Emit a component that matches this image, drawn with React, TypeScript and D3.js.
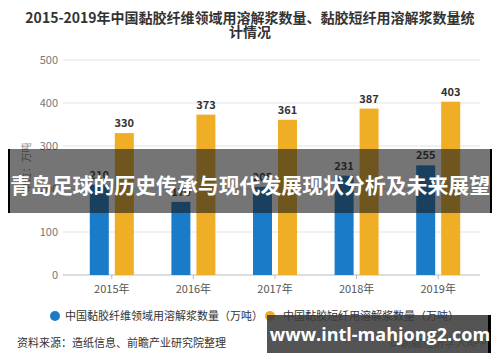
import React from "react";
import * as d3 from "d3";

// chart data
const years = ["2015年", "2016年", "2017年", "2018年", "2019年"];
const seriesNames = [
  "中国黏胶纤维领域用溶解浆数量（万吨）",
  "中国黏胶短纤用溶解浆数量（万吨）",
];
const fiberPulp = [210, 170, 205, 231, 255];
const staplePulp = [330, 373, 361, 387, 403];
const yTicks = [0, 100, 200, 300, 400, 500];
const colors = ["#1a7bc9", "#f0ae26"];

const W = 500;
const H = 362;
const FONT = "'Noto Sans CJK SC', 'Noto Sans', sans-serif";

export default function App() {
  const x0 = d3.scaleBand<string>().domain(years).range([71, 479]);
  const x1 = d3
    .scaleBand<number>()
    .domain([0, 1])
    .range([0, 44])
    .paddingInner(0.24);
  const y = d3.scaleLinear().domain([0, 500]).range([275, 60]);

  const series = [fiberPulp, staplePulp];
  const groupOffset = (x0.bandwidth() - 44) / 2;

  return (
    <svg
      width={W}
      height={H}
      style={{ position: "fixed", left: 0, top: 0, background: "#fff" }}
      fontFamily={FONT}
    >
      <rect width={W} height={H} fill="#fff" />

      {/* title */}
      <text x={250} y={23} textAnchor="middle" fontSize={14} fontWeight="bold" fill="#333">
        2015-2019年中国黏胶纤维领域用溶解浆数量、黏胶短纤用溶解浆数量统
      </text>
      <text x={250} y={37} textAnchor="middle" fontSize={14} fontWeight="bold" fill="#333">
        计情况
      </text>

      {/* grid + y labels */}
      {yTicks.map((t) => (
        <g key={t}>
          <line
            x1={63}
            x2={480}
            y1={y(t)}
            y2={y(t)}
            stroke={t === 0 ? "#bbb" : "#e3e3e3"}
            strokeWidth={1}
          />
          <text x={58} y={y(t) + 4} textAnchor="end" fontSize={11} fill="#777">
            {t}
          </text>
        </g>
      ))}
      <text
        transform={`translate(30,${y(250)}) rotate(-90)`}
        textAnchor="middle"
        fontSize={10}
        fill="#888"
      >
        单位：万吨
      </text>

      {/* bars */}
      {years.map((yr, i) => (
        <g key={yr} transform={`translate(${(x0(yr) ?? 0) + groupOffset},0)`}>
          {series.map((s, k) => (
            <g key={k}>
              <rect
                x={x1(k)}
                y={y(s[i])}
                width={x1.bandwidth()}
                height={y(0) - y(s[i])}
                fill={colors[k]}
              />
              <text
                x={(x1(k) ?? 0) + x1.bandwidth() / 2}
                y={y(s[i]) - 6}
                textAnchor="middle"
                fontSize={11}
                fontWeight="bold"
                fill="#333"
              >
                {s[i]}
              </text>
            </g>
          ))}
          <line
            x1={x0.bandwidth() / 2 - groupOffset}
            x2={x0.bandwidth() / 2 - groupOffset}
            y1={275}
            y2={279}
            stroke="#bbb"
          />
          <text
            x={x0.bandwidth() / 2 - groupOffset}
            y={293}
            textAnchor="middle"
            fontSize={11}
            fill="#555"
          >
            {yr}
          </text>
        </g>
      ))}

      {/* legend */}
      <circle cx={55} cy={316} r={5} fill={colors[0]} />
      <text x={65} y={320} fontSize={11} fill="#333">
        {seriesNames[0]}
      </text>
      <circle cx={270} cy={316} r={5} fill={colors[1]} />
      <text x={283} y={320} fontSize={11} fill="#333">
        {seriesNames[1]}
      </text>

      {/* source */}
      <text x={17} y={347} fontSize={11} fill="#333">
        资料来源：造纸信息、前瞻产业研究院整理
      </text>
      <text x={487} y={347} textAnchor="end" fontSize={11} fill="#666">
        © 前瞻经济学人APP
      </text>

      {/* overlay banner */}
      <rect x={8} y={149} width={484} height={64} fill="rgba(25,25,25,0.6)" />
      <rect x={8} y={149} width={2} height={64} fill="#000" />
      <rect x={490} y={149} width={2} height={64} fill="#000" />
      <text
        x={250}
        y={193}
        textAnchor="middle"
        fontSize={21}
        fontWeight="bold"
        fill="#fff"
        textLength={480}
        lengthAdjust="spacingAndGlyphs"
      >
        青岛足球的历史传承与现代发展现状分析及未来展望
      </text>

      {/* url badge */}
      <rect x={267} y={315} width={223} height={38} fill="rgba(60,60,60,0.88)" />
      <rect x={488} y={315} width={3} height={38} fill="#000" />
      <text
        x={380}
        y={341}
        textAnchor="middle"
        fontSize={18}
        fontWeight="bold"
        fill="#fff"
        fontFamily="'Open Sans', 'DejaVu Sans', sans-serif"
      >
        www.intl-mahjong2.com
      </text>
    </svg>
  );
}
